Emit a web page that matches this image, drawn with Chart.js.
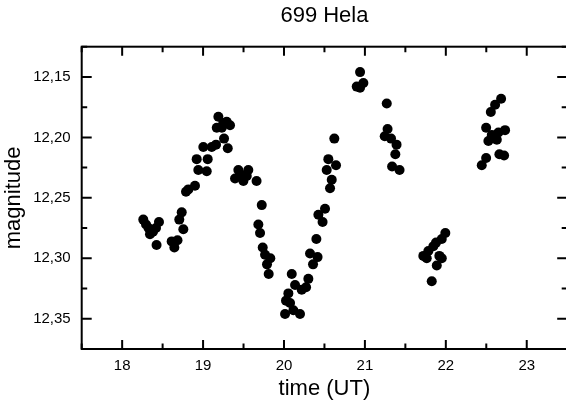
<!DOCTYPE html>
<html><head><meta charset="utf-8">
<script src="https://cdn.jsdelivr.net/npm/chart.js@4.4.0/dist/chart.umd.min.js"></script>
<style>html,body{margin:0;padding:0;overflow:hidden;background:#fff}
#wrap{position:relative;width:574px;height:406px}</style></head>
<body><div id="wrap"><canvas id="c" width="574" height="406"></canvas></div>
<script>
const chartTitle = '699 Hela';
const xLabel = 'time (UT)';
const yLabel = 'magnitude';
const xTicks = [18, 19, 20, 21, 22, 23];
const yTicks = [12.15, 12.20, 12.25, 12.30, 12.35];
const timeUT = [
18.261, 18.295, 18.326, 18.344, 18.381, 18.418, 18.455, 18.425,
18.612, 18.645, 18.684, 18.706, 18.736, 18.756, 18.789, 18.818, 18.900,
18.941, 19.045, 18.921, 19.057, 19.003, 19.107, 19.160, 19.259, 19.305, 19.169, 19.189, 19.250, 19.292, 19.333, 19.231,
19.395, 19.436, 19.478, 19.498, 19.559, 19.540, 19.661,
19.725, 19.683, 19.704, 19.737, 19.766, 19.831, 19.790, 19.811,
20.096, 20.137, 20.054, 20.219, 20.025, 20.075, 20.013, 20.116, 20.198, 20.301, 20.273,
20.322, 20.415, 20.359, 20.400, 20.425, 20.477, 20.507, 20.528, 20.590, 20.569, 20.548, 20.622, 20.643,
20.940, 20.899, 20.981, 20.940, 21.270, 21.280, 21.245, 21.323, 21.391, 21.376, 21.336, 21.428,
21.994, 21.950, 21.879, 21.846, 21.784, 21.722, 21.764, 21.920, 21.950, 21.888, 21.826,
22.683, 22.609, 22.556, 22.498, 22.568, 22.630, 22.526, 22.650, 22.732, 22.662, 22.720, 22.498, 22.444
];
const magnitude = [
12.268, 12.272, 12.275, 12.280, 12.278, 12.275, 12.270, 12.289,
12.286, 12.291, 12.285, 12.268, 12.262, 12.276, 12.245, 12.243, 12.240,
12.227, 12.228, 12.218, 12.218, 12.208, 12.208, 12.206, 12.201, 12.209, 12.192, 12.183, 12.188, 12.187, 12.190, 12.192,
12.234, 12.227, 12.231, 12.236, 12.227, 12.232, 12.236,
12.256, 12.272, 12.279, 12.291, 12.297, 12.300, 12.305, 12.313,
12.313, 12.322, 12.329, 12.326, 12.335, 12.337, 12.346, 12.343, 12.346, 12.317, 12.324,
12.296, 12.299, 12.305, 12.284, 12.264, 12.270, 12.259, 12.227, 12.235, 12.242, 12.218, 12.201, 12.223,
12.146, 12.158, 12.155, 12.159, 12.172, 12.193, 12.199, 12.201, 12.206, 12.214, 12.224, 12.227,
12.279, 12.284, 12.287, 12.290, 12.294, 12.298, 12.300, 12.298, 12.300, 12.306, 12.319,
12.168, 12.173, 12.179, 12.192, 12.198, 12.202, 12.203, 12.196, 12.194, 12.214, 12.215, 12.217, 12.223
];

const FONT = '"Liberation Sans", Arial, sans-serif';
const points = timeUT.map((t, i) => ({x: t, y: magnitude[i]}));

const framePlugin = {
  id: 'frame',
  afterDatasetsDraw(chart) {
    const {ctx, chartArea: a, scales: {x, y}} = chart;
    ctx.save();
    ctx.strokeStyle = '#000';
    ctx.lineWidth = 2;
    ctx.strokeRect(a.left, a.top, a.right - a.left, a.bottom - a.top);
    ctx.beginPath();
    const major = 9, minor = 5.5;
    for (let v = 17.5; v <= 23.51; v += 0.5) {
      const isMajor = Math.abs(v - Math.round(v)) < 1e-6;
      const len = isMajor ? major : minor;
      const px = x.getPixelForValue(v);
      ctx.moveTo(px, a.bottom); ctx.lineTo(px, a.bottom - len);
      ctx.moveTo(px, a.top); ctx.lineTo(px, a.top + len);
    }
    for (let k = 0; k <= 10; k++) {
      const v = 12.125 + k * 0.025;
      const isMajor = k % 2 === 1;
      const len = isMajor ? major + 1 : minor;
      const py = y.getPixelForValue(v);
      ctx.moveTo(a.left, py); ctx.lineTo(a.left + len, py);
      ctx.moveTo(a.right, py); ctx.lineTo(a.right - len, py);
    }
    ctx.stroke();
    ctx.fillStyle = '#000';
    ctx.font = '22px ' + FONT;
    ctx.textAlign = 'center';
    ctx.textBaseline = 'middle';
    ctx.fillText(chartTitle, (a.left + a.right) / 2, 16);
    ctx.restore();
  }
};

new Chart(document.getElementById('c'), {
  type: 'scatter',
  data: {datasets: [{
    data: points,
    backgroundColor: '#000',
    borderColor: '#000',
    borderWidth: 0,
    pointRadius: 5,
    pointHoverRadius: 5
  }]},
  options: {
    responsive: false,
    animation: false,
    events: [],
    layout: {padding: {top: 46.7, right: 6.8, left: 0, bottom: 0}},
    plugins: {legend: {display: false}, tooltip: {enabled: false}, title: {display: false}},
    scales: {
      x: {
        type: 'linear', min: 17.5, max: 23.5,
        afterBuildTicks: s => { s.ticks = xTicks.map(v => ({value: v})); },
        afterFit: s => { s.height = 57; },
        grid: {display: false, drawTicks: false},
        border: {display: false},
        ticks: {color: '#000', font: {size: 15, family: FONT}, padding: 8, maxRotation: 0,
                callback: v => String(v)},
        title: {display: true, text: xLabel, color: '#000', font: {size: 22, family: FONT},
                padding: {top: 0, bottom: 4}}
      },
      y: {
        type: 'linear', min: 12.125, max: 12.375, reverse: true,
        afterBuildTicks: s => { s.ticks = yTicks.map(v => ({value: v})); },
        afterFit: s => { s.width = 81.7; },
        grid: {display: false, drawTicks: false},
        border: {display: false},
        ticks: {color: '#000', font: {size: 15, family: FONT}, padding: 11,
                callback: v => Number(v).toFixed(2).replace('.', ',')},
        title: {display: true, text: yLabel, color: '#000', font: {size: 22, family: FONT},
                padding: {top: 1, bottom: 0}}
      }
    }
  },
  plugins: [framePlugin]
});
</script>
</body></html>
